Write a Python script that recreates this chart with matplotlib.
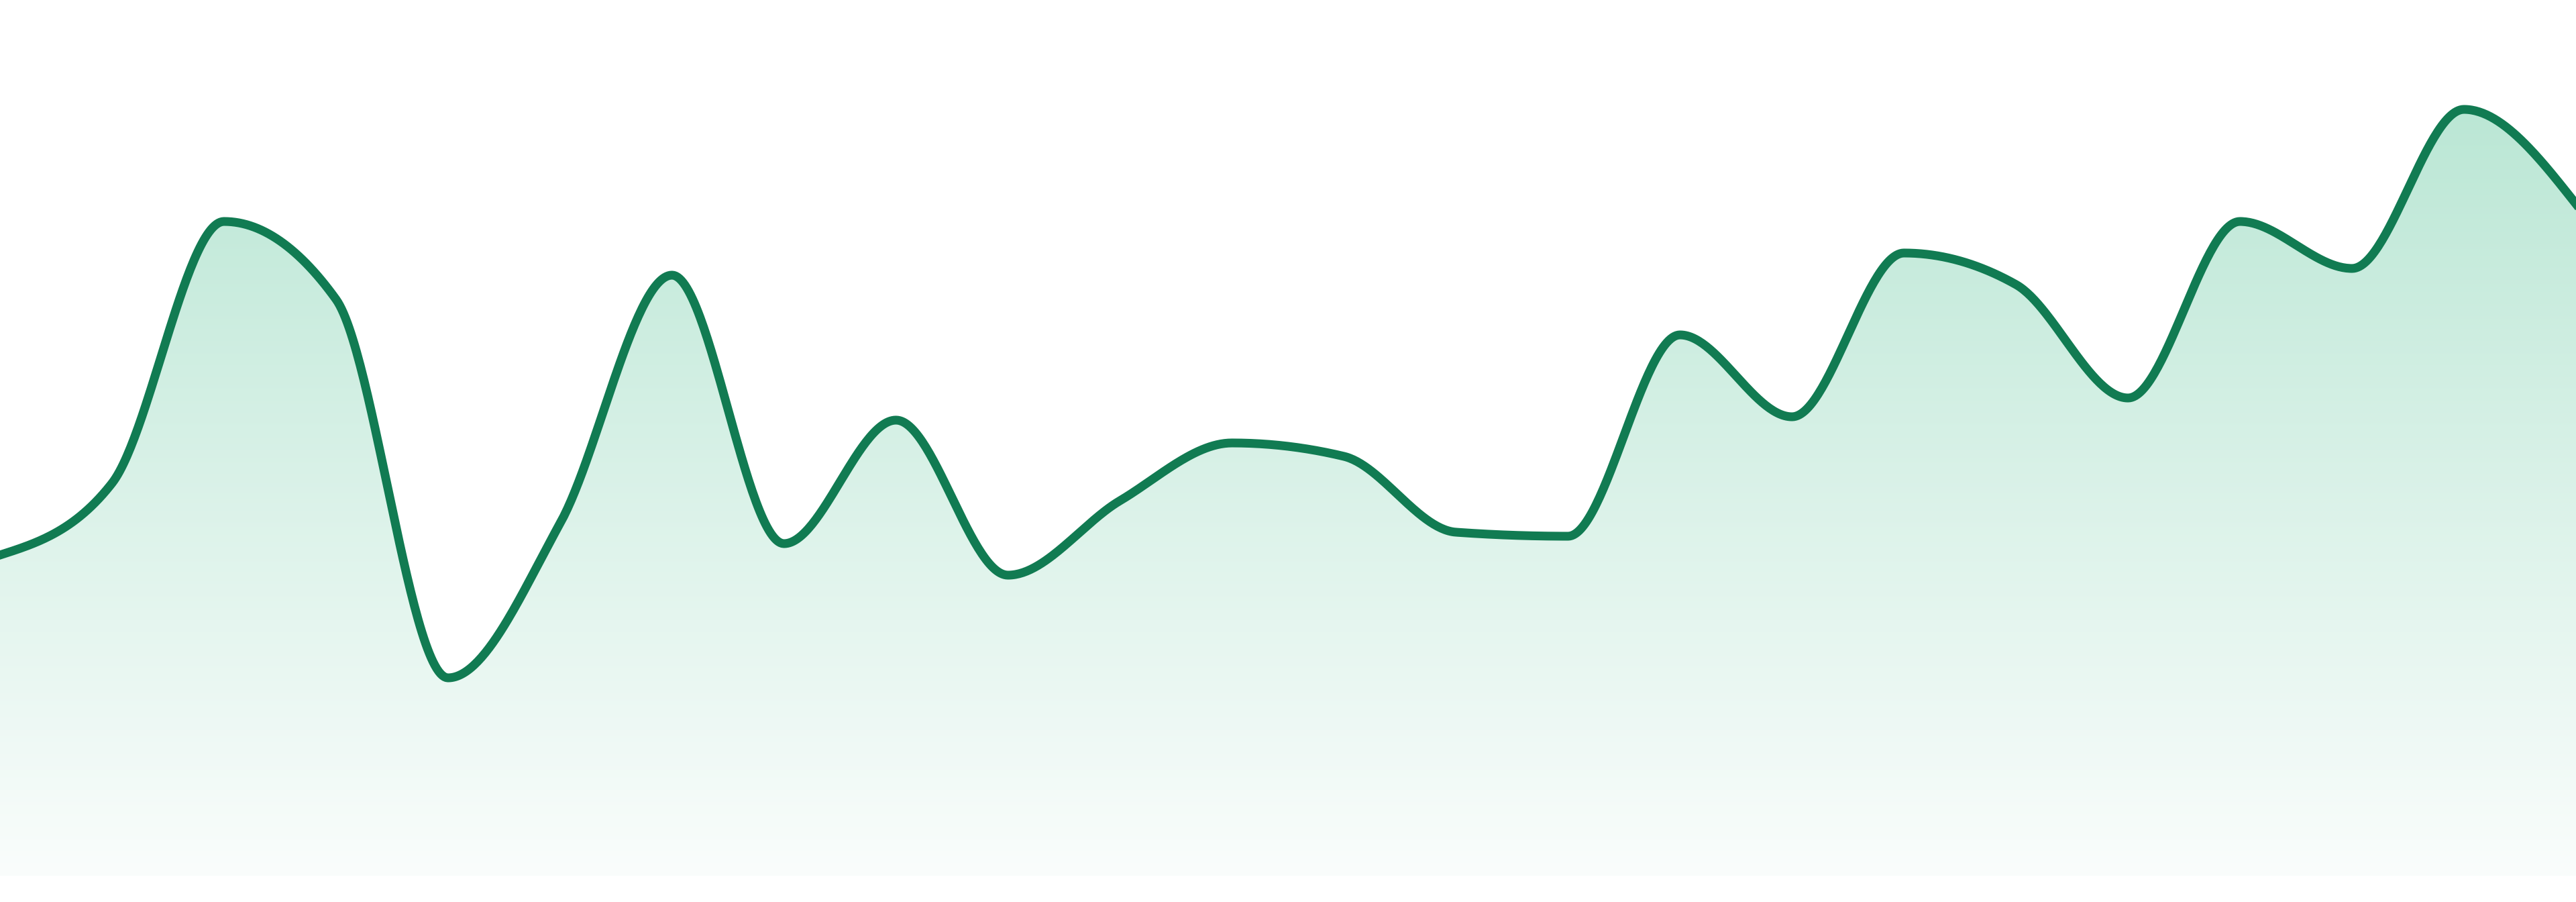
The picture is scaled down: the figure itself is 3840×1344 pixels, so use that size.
import matplotlib
matplotlib.use("Agg")
import matplotlib.pyplot as plt
import numpy as np

# one value per step, evenly spaced across the full width
steps = list(range(24))
values = [47.8, 58.5, 97.5, 85.9, 29.5, 52.5, 89.5, 49.5, 67.9, 44.8, 55.9, 64.5,
          62.5, 51.2, 50.6, 80.6, 68.4, 92.8, 88.1, 71.2, 97.5, 90.5, 114.2, 100.1]

line_color = "#117b52"
fill_top = np.array([187, 231, 213]) / 255.0
fill_bottom = np.array([250, 253, 252]) / 255.0


def monotone_curve(x, y, samples=60):
    # same rule as d3 curveMonotoneX
    x = np.asarray(x, dtype=float)
    y = np.asarray(y, dtype=float)
    n = len(x)
    h = np.diff(x)
    s = np.diff(y) / h
    t = np.zeros(n)
    for i in range(1, n - 1):
        h0, h1 = h[i - 1], h[i]
        s0, s1 = s[i - 1], s[i]
        p = (s0 * h1 + s1 * h0) / (h0 + h1)
        t[i] = (np.sign(s0) + np.sign(s1)) * min(abs(s0), abs(s1), 0.5 * abs(p))
    t[0] = (3 * s[0] - t[1]) / 2
    t[-1] = (3 * s[-1] - t[-2]) / 2

    xs, ys = [], []
    for i in range(n - 1):
        u = np.linspace(0, 1, samples, endpoint=(i == n - 2))
        dx = h[i]
        h00 = 2 * u**3 - 3 * u**2 + 1
        h10 = u**3 - 2 * u**2 + u
        h01 = -2 * u**3 + 3 * u**2
        h11 = u**3 - u**2
        xs.append(x[i] + u * dx)
        ys.append(h00 * y[i] + h10 * dx * t[i] + h01 * y[i + 1] + h11 * dx * t[i + 1])
    return np.concatenate(xs), np.concatenate(ys)


fig = plt.figure(figsize=(38.4, 13.44), dpi=100)
ax = fig.add_axes([0, 0, 1, 1])
ax.set_xlim(0, 23)
ax.set_ylim(-3.9, 130.5)
ax.axis("off")

cx, cy = monotone_curve(steps, values)

# gradient fill under the curve
area = ax.fill_between(cx, cy, 0, facecolor="none", edgecolor="none")
top_v = max(values)
rows = np.linspace(130.5, -3.9, 600)
frac = np.clip((top_v - rows) / top_v, 0, 1)[:, None]
colors = fill_top + (fill_bottom - fill_top) * frac
img = np.repeat(colors[:, None, :], 2, axis=1)
im = ax.imshow(img, extent=[0, 23, -3.9, 130.5], aspect="auto", interpolation="bilinear", zorder=1)
im.set_clip_path(area.get_paths()[0], transform=ax.transData)

ax.plot(cx, cy, color=line_color, linewidth=9.4, solid_joinstyle="round", zorder=2)

fig.savefig("out.png", dpi=100, facecolor="white")
